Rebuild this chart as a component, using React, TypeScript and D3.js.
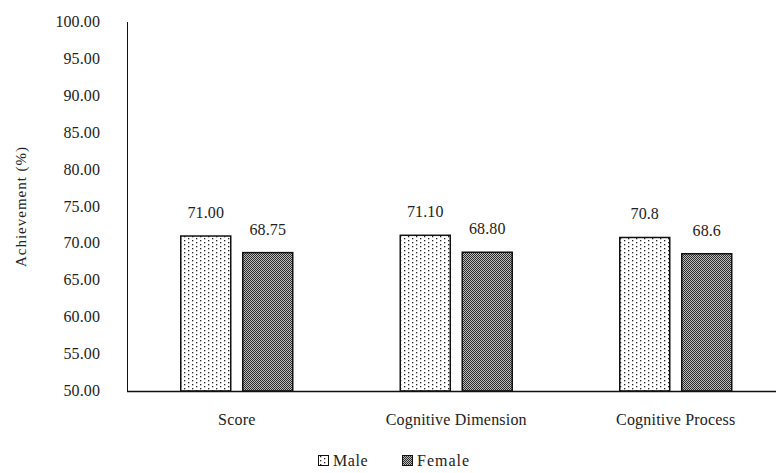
import React from "react";
import * as d3 from "d3";

const categories = ["Score", "Cognitive Dimension", "Cognitive Process"];
const maleValues = [71.0, 71.1, 70.8];
const femaleValues = [68.75, 68.8, 68.6];
const maleLabels = ["71.00", "71.10", "70.8"];
const femaleLabels = ["68.75", "68.80", "68.6"];
const yTicks = [50, 55, 60, 65, 70, 75, 80, 85, 90, 95, 100];
const seriesNames = ["Male", "Female"];

const W = 776;
const H = 473;
const FONT = "'Times New Roman', 'Liberation Serif', Tinos, 'DejaVu Serif', serif";

export default function App() {
  const x = d3.scaleBand<string>().domain(categories).range([127, 785.5]);
  const y = d3.scaleLinear().domain([50, 100]).range([391, 22]);
  const barW = 50;
  const half = 6;
  const txt = { fontFamily: FONT, fontSize: 16, fill: "#222", letterSpacing: "0.1px" } as any;

  return (
    <svg
      width={W}
      height={H}
      style={{ position: "absolute", left: 0, top: 0, background: "#fff", fontFamily: FONT }}
    >
      <defs>
        <pattern id="pMale" width="8" height="8" patternUnits="userSpaceOnUse">
          <rect width="8" height="8" fill="#fff" />
          <rect x="0" y="0" width="1.3" height="1.3" fill="#222" />
          <rect x="4" y="2" width="1.3" height="1.3" fill="#222" />
          <rect x="0" y="4" width="1.3" height="1.3" fill="#222" />
          <rect x="4" y="6" width="1.3" height="1.3" fill="#222" />
        </pattern>
        <pattern id="pFemale" width="2" height="2" patternUnits="userSpaceOnUse">
          <rect width="2" height="2" fill="#bdbdbd" />
          <rect x="0" y="0" width="1" height="1" fill="#2a2a2a" />
          <rect x="1" y="1" width="1" height="1" fill="#2a2a2a" />
        </pattern>
      </defs>

      {yTicks.map((t) => (
        <text key={t} x={100} y={y(t) + 5} textAnchor="end" style={txt}>
          {t.toFixed(2)}
        </text>
      ))}

      <text
        transform={`translate(26,${y(75)}) rotate(-90)`}
        textAnchor="middle"
        style={{ ...txt, fontSize: 15, letterSpacing: "1px" }}
      >
        Achievement (%)
      </text>

      {categories.map((c, i) => {
        const cx = (x(c) as number) + x.bandwidth() / 2;
        const mTop = y(maleValues[i]);
        const fTop = y(femaleValues[i]);
        return (
          <g key={c}>
            <rect
              x={cx - half - barW}
              y={mTop}
              width={barW}
              height={y(50) - mTop}
              fill="url(#pMale)"
              stroke="#111"
              strokeWidth={1.5}
            />
            <rect
              x={cx + half}
              y={fTop}
              width={barW}
              height={y(50) - fTop}
              fill="url(#pFemale)"
              stroke="#111"
              strokeWidth={1.5}
            />
            <text x={cx - half - barW / 2} y={mTop - 18} textAnchor="middle" style={txt}>
              {maleLabels[i]}
            </text>
            <text x={cx + half + barW / 2} y={fTop - 18} textAnchor="middle" style={txt}>
              {femaleLabels[i]}
            </text>
            <text x={cx} y={425} textAnchor="middle" style={{ ...txt, letterSpacing: "0.2px" }}>
              {c}
            </text>
          </g>
        );
      })}

      <line x1={127.5} x2={127.5} y1={y(100)} y2={y(50)} stroke="#111" strokeWidth={1} />
      <line x1={127} x2={776} y1={y(50) + 0.5} y2={y(50) + 0.5} stroke="#111" strokeWidth={1.5} />

      <g>
        <rect x={318.5} y={455.5} width={10} height={10} fill="url(#pMale)" stroke="#111" strokeWidth={1} />
        <text x={333} y={466} style={{ ...txt, letterSpacing: "0.6px" }}>
          {seriesNames[0]}
        </text>
        <rect x={402.5} y={455.5} width={10} height={10} fill="url(#pFemale)" stroke="#111" strokeWidth={1} />
        <text x={417} y={466} style={{ ...txt, letterSpacing: "1px" }}>
          {seriesNames[1]}
        </text>
      </g>
    </svg>
  );
}
